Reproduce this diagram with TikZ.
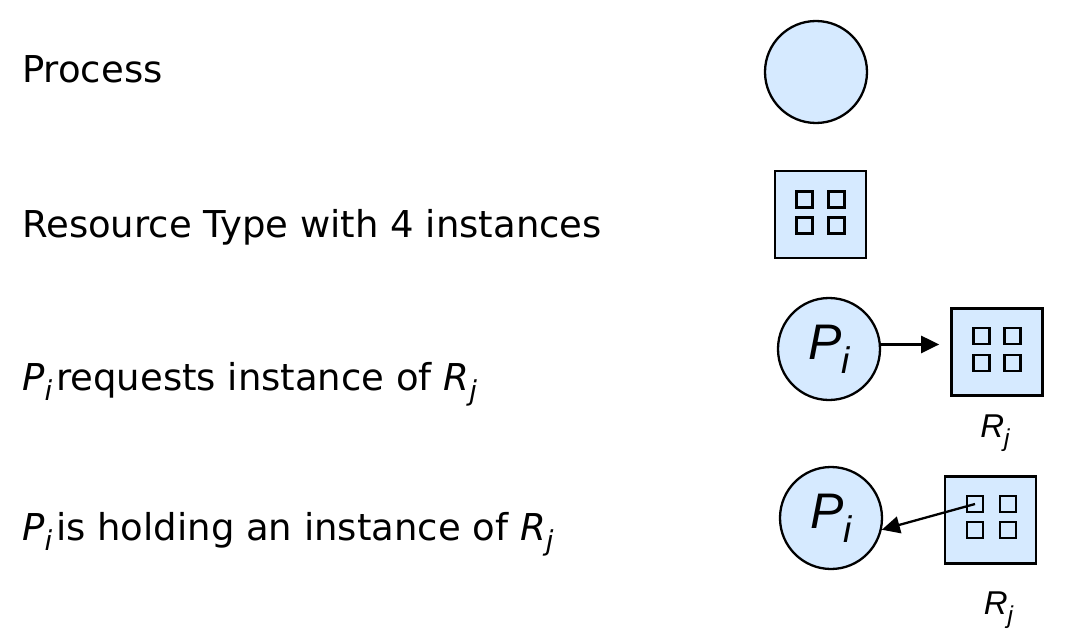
\documentclass[tikz,border=0pt]{standalone}
\usepackage{fontspec}
\setmainfont{DejaVu Sans}
\newfontfamily\helv{Liberation Sans}
\usetikzlibrary{positioning,arrows.meta}
\definecolor{procblue}{RGB}{214,234,255}
\newcommand{\lowsub}[1]{\raisebox{-0.28em}{\scalebox{0.74}{#1}}}

\tikzset{
  proc/.style={circle,draw,fill=procblue,line width=2.3pt,minimum size=102pt,inner sep=0pt,
    font=\helv\fontsize{50}{54}\selectfont\itshape},
  res/.style={rectangle,draw,fill=procblue,line width=2.6pt,minimum width=91pt,minimum height=87pt,inner sep=0pt},
  inst/.style={rectangle,draw,line width=2.2pt,minimum size=16pt,inner sep=0pt},
  lbl/.style={anchor=base west,inner sep=0pt,font=\fontsize{37}{44}\selectfont},
  rlbl/.style={inner sep=0pt,font=\helv\fontsize{33}{36}\selectfont\itshape},
  arr/.style={-{Triangle[length=18pt,width=17pt]},line width=2.3pt},
}

\begin{document}
\begin{tikzpicture}[x=1pt,y=-1pt]
\useasboundingbox (0,0) rectangle (1066,634);
%Text
\node[lbl] (tproc) at (22,83) {Process};
\node[lbl] (tres) at (22,237) {Resource Type with 4 instances};
\node[lbl] (treq) at (22,390) {\textit{P}\lowsub{\textit{i}}\hspace{4pt}requests instance of \textit{R}\lowsub{\textit{j}}};
\node[lbl] (thold) at (22,540) {\textit{P}\lowsub{\textit{i}}\hspace{4pt}is holding an instance of \textit{R}\lowsub{\textit{j}}};
%Process
\node[proc] (proc) at (816,72) {};
%Resource type
\node[res] (res) at (820.5,214.5) {};
\node[inst] (r1a) at ([xshift=-16pt,yshift=15pt]res.center) {};
\node[inst] (r1b) at ([xshift=16pt,yshift=15pt]res.center) {};
\node[inst] (r1c) at ([xshift=-16pt,yshift=-11pt]res.center) {};
\node[inst] (r1d) at ([xshift=16pt,yshift=-11pt]res.center) {};
%Request edge
\node[proc] (req) at (829,349) {P\lowsub{i}};
\node[res] (rreq) at (997,352) {};
\node[inst] (r2a) at ([xshift=-15.5pt,yshift=16pt]rreq.center) {};
\node[inst] (r2b) at ([xshift=15.5pt,yshift=16pt]rreq.center) {};
\node[inst] (r2c) at ([xshift=-15.5pt,yshift=-11pt]rreq.center) {};
\node[inst] (r2d) at ([xshift=15.5pt,yshift=-11pt]rreq.center) {};
\node[rlbl,below=18pt of rreq,xshift=-2pt] (lreq) {R\lowsub{j}};
\draw[arr,shorten >=11pt] (req.5) -- (req.5 -| rreq.west);
%Assignment edge
\node[proc] (hold) at (831,518) {P\lowsub{i}};
\node[res] (rhold) at (990.5,520) {};
\node[inst] (r3a) at ([xshift=-15.5pt,yshift=16pt]rhold.center) {};
\node[inst] (r3b) at ([xshift=17.5pt,yshift=16pt]rhold.center) {};
\node[inst] (r3c) at ([xshift=-15.5pt,yshift=-10pt]rhold.center) {};
\node[inst] (r3d) at ([xshift=17.5pt,yshift=-10pt]rhold.center) {};
\node[rlbl,below=27pt of rhold,xshift=8pt] (lhold) {R\lowsub{j}};
\draw[arr] (r3a.center) -- (hold.-13);
\end{tikzpicture}
\end{document}
